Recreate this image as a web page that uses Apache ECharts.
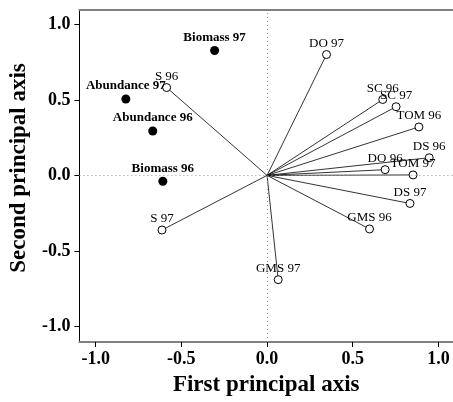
<!DOCTYPE html>
<html>
<head>
<meta charset="utf-8">
<script src="https://cdn.jsdelivr.net/npm/echarts@6/dist/echarts.min.js"></script>
<style>html,body{margin:0;padding:0;background:#fff}#c{width:453px;height:402px}</style>
</head>
<body>
<div id="c"></div>
<script>
// Variable loadings (open circles, joined to the origin)
var varNames = ['DO 97','SC 96','SC 97','TOM 96','DS 96','DO 96','TOM 97','DS 97','GMS 96','GMS 97','S 97','S 96'];
var varX = [0.347, 0.675, 0.753, 0.886, 0.946, 0.689, 0.852, 0.834, 0.598, 0.065, -0.613, -0.586];
var varY = [0.801, 0.503, 0.455, 0.321, 0.117, 0.038, 0.003, -0.186, -0.355, -0.691, -0.362, 0.582];
// Supplementary variables (filled dots)
var supNames = ['Biomass 97','Abundance 97','Abundance 96','Biomass 96'];
var supX = [-0.306, -0.824, -0.667, -0.608];
var supY = [0.828, 0.506, 0.294, -0.039];
// Tick values
var tickValues = [-1.0, -0.5, 0.0, 0.5, 1.0];

var serif = 'Liberation Serif';
var chart = echarts.init(document.getElementById('c'), null, {renderer: 'canvas'});

var varPoints = varNames.map(function (n, i) { return {name: n, value: [varX[i], varY[i]]}; });
var supPoints = supNames.map(function (n, i) { return {name: n, value: [supX[i], supY[i]]}; });
var segs = varNames.map(function (n, i) { return {coords: [[0, 0], [varX[i], varY[i]]]}; });

var tickLabel = {
  customValues: tickValues,
  formatter: function (v) { return Number(v).toFixed(1); },
  fontFamily: serif, fontWeight: 'bold', fontSize: 18, color: '#000'
};

chart.setOption({
  animation: false,
  backgroundColor: '#fff',
  grid: {left: 77, right: 0, top: 10, bottom: 58, containLabel: false},
  xAxis: [{
    type: 'value', min: -1.095, max: 1.085,
    name: 'First principal axis', nameLocation: 'middle', nameGap: 32,
    nameTextStyle: {fontFamily: serif, fontWeight: 'bold', fontSize: 23, color: '#000'},
    axisLine: {show: true, onZero: false, lineStyle: {color: '#808080', width: 2}},
    axisTick: {show: true, customValues: tickValues, length: 5, inside: false, lineStyle: {color: '#000', width: 1}},
    axisLabel: Object.assign({margin: 8}, tickLabel),
    splitLine: {show: false}
  }, {
    type: 'value', position: 'top', min: -1.095, max: 1.085,
    axisLine: {show: true, onZero: false, lineStyle: {color: '#808080', width: 2}},
    axisTick: {show: false}, axisLabel: {show: false}, splitLine: {show: false}
  }],
  yAxis: {
    type: 'value', min: -1.104, max: 1.096,
    name: 'Second principal axis', nameLocation: 'middle', nameGap: 42,
    nameTextStyle: {fontFamily: serif, fontWeight: 'bold', fontSize: 23, color: '#000', padding: [0, 0, 0, 16]},
    axisLine: {show: true, onZero: false, lineStyle: {color: '#000', width: 1}},
    axisTick: {show: true, customValues: tickValues, length: 5, lineStyle: {color: '#000', width: 1}},
    axisLabel: Object.assign({margin: 9}, tickLabel),
    splitLine: {show: false}
  },
  series: [{
    type: 'lines', coordinateSystem: 'cartesian2d', xAxisIndex: 0, yAxisIndex: 0,
    silent: true, symbol: 'none',
    lineStyle: {color: '#000', width: 0.8, opacity: 1},
    data: segs,
    markLine: {
      silent: true, symbol: 'none', label: {show: false},
      lineStyle: {color: '#999', width: 1, type: [1, 3]},
      data: [{xAxis: 0}, {yAxis: 0}]
    },
    z: 2
  }, {
    type: 'scatter', xAxisIndex: 0, yAxisIndex: 0,
    symbol: 'circle', symbolSize: 8,
    itemStyle: {color: '#fff', borderColor: '#000', borderWidth: 1, opacity: 1},
    label: {show: true, position: 'top', distance: 0, formatter: '{b}',
      fontFamily: serif, fontSize: 13, color: '#000'},
    data: varPoints, z: 3
  }, {
    type: 'scatter', xAxisIndex: 0, yAxisIndex: 0,
    symbol: 'circle', symbolSize: 9,
    itemStyle: {color: '#000', opacity: 1},
    label: {show: true, position: 'top', distance: 2, formatter: '{b}',
      fontFamily: serif, fontWeight: 'bold', fontSize: 13, color: '#000'},
    data: supPoints, z: 3
  }]
});
</script>
</body>
</html>
